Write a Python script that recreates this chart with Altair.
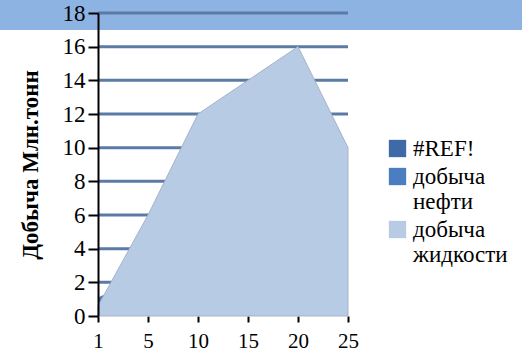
import altair as alt
import pandas as pd

# Period labels along the x axis
periods = ["1", "5", "10", "15", "20", "25"]
# Production, million tonnes
oil = [1.1, 2.5, 4.0, 4.5, 5.0, 3.5]          # добыча нефти
liquid = [0.6, 6.0, 12.0, 14.0, 16.0, 10.0]   # добыча жидкости
series_names = ["#REF!", "добыча нефти", "добыча жидкости"]
series_colors = ["#3f6aa8", "#4a7ec0", "#b7cbe4"]
grid_values = [2, 4, 6, 8, 10, 12, 14, 16, 18]
y_ticks = [0, 2, 4, 6, 8, 10, 12, 14, 16, 18]

rows = []
for p, v in zip(periods, oil):
    rows.append({"period": p, "value": v, "series": "добыча нефти"})
for p, v in zip(periods, liquid):
    rows.append({"period": p, "value": v, "series": "добыча жидкости"})
df = pd.DataFrame(rows)
grid_df = pd.DataFrame({"g": grid_values})

FONT = "Liberation Serif"

x_axis = alt.Axis(
    title=None, labelAngle=0, domain=False, tickColor="black", tickSize=6,
    tickWidth=2, labelFontSize=21, labelFont=FONT, labelColor="black",
    labelPadding=8, labelOverlap=False,
)
x_enc = alt.X(
    "period:O", sort=periods,
    scale=alt.Scale(type="point", padding=0), axis=x_axis,
)

y_scale = alt.Scale(domain=[0, 18], nice=False)
y_axis = alt.Axis(
    values=y_ticks, grid=False, domainColor="black",
    domainWidth=2, tickColor="black", tickWidth=2, tickSize=10,
    labelFont=FONT, labelFontSize=23, labelColor="black",
    labelPadding=3, labelOverlap=False, labelBound=False,
    title="Добыча Млн.тонн", titleFont=FONT,
    titleFontSize=23, titleFontWeight="bold", titleColor="black",
    titlePadding=20, zindex=1,
)

legend = alt.Legend(
    title=None, symbolType="square", symbolSize=300, symbolStrokeWidth=0,
    symbolOpacity=1, labelFont=FONT, labelFontSize=23, labelColor="black",
    labelExpr="split(datum.label, ' ')", labelLimit=200, labelOffset=4,
    rowPadding=4, orient="none", legendX=288, legendY=124,
)
color_enc = alt.Color(
    "series:N",
    scale=alt.Scale(domain=series_names, range=series_colors),
    legend=legend,
)

# light-blue strip across the top of the chart
band = alt.Chart(pd.DataFrame({"b": [0]})).mark_rect(
    color="#8db3e2", clip=False
).encode(
    x=alt.value(-98), x2=alt.value(424), y=alt.value(-13), y2=alt.value(17)
)

grid = alt.Chart(grid_df).mark_rule(color="#5b7ba6", strokeWidth=3).encode(
    y=alt.Y("g:Q", scale=y_scale, axis=y_axis),
    x=alt.value(0),
    x2=alt.value("width"),
)

oil_area = alt.Chart(df).transform_filter(
    alt.datum.series == "добыча нефти"
).mark_area(opacity=1).encode(
    x=x_enc,
    y=alt.Y("value:Q", scale=y_scale, axis=y_axis),
    color=color_enc,
)

liquid_area = alt.Chart(df).transform_filter(
    alt.datum.series == "добыча жидкости"
).mark_area(opacity=1, stroke="#a4b3c9", strokeWidth=1).encode(
    x=x_enc,
    y=alt.Y("value:Q", scale=y_scale, axis=y_axis),
    color=color_enc,
)

chart = alt.layer(band, grid, oil_area, liquid_area).properties(
    width=250,
    height=303,
    background="white",
    padding={"left": 98, "top": 13, "right": 174, "bottom": 39},
    autosize=alt.AutoSizeParams(type="none"),
).configure(
    font=FONT,
    view=alt.ViewConfig(stroke=None),
)

chart.save("out.html", embed_options={"renderer": "svg", "actions": False})
